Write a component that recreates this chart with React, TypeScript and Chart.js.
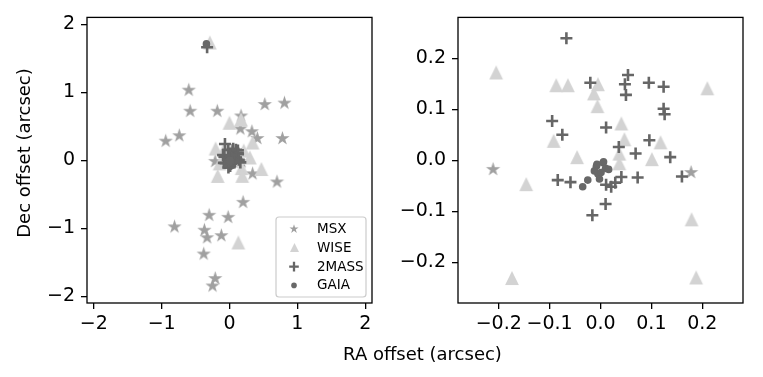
import React, { useEffect, useRef } from "react";
import { Chart, registerables } from "chart.js";

Chart.register(...registerables);

const FONT_FAMILY = "'DejaVu Sans', 'Liberation Sans', sans-serif";

// ---- data (arcsec offsets) ----
const msxRA = [-0.6, -0.58, -0.18, 0.52, 0.81, 0.17, 0.16, 0.33, 0.41, 0.78, -0.74, -0.94, -0.211, 0.178, 0.34, 0.7, 0.2, -0.3, -0.02, -0.81, -0.37, -0.33, -0.12, -0.38, -0.21, -0.25];
const msxDec = [1.03, 0.72, 0.72, 0.82, 0.84, 0.65, 0.46, 0.42, 0.32, 0.32, 0.36, 0.28, -0.018, -0.024, -0.2, -0.32, -0.62, -0.81, -0.84, -0.98, -1.03, -1.14, -1.11, -1.38, -1.74, -1.85];

const wiseRA = [-0.29, 0.0, 0.17, 0.34, 0.3, 0.47, 0.13, -0.205, -0.087, -0.064, -0.005, -0.013, -0.006, 0.21, 0.041, 0.047, -0.092, 0.118, -0.046, 0.037, 0.101, 0.037, -0.146, 0.179, -0.174, 0.188];
const wiseDec = [1.73, 0.55, 0.6, 0.26, 0.04, -0.13, -1.21, 0.172, 0.147, 0.147, 0.149, 0.131, 0.106, 0.141, 0.072, 0.041, 0.038, 0.035, 0.006, 0.013, 0.002, -0.006, -0.047, -0.116, -0.231, -0.23];

const tmassRA = [-0.33, -0.067, -0.02, 0.054, 0.048, 0.05, 0.095, 0.124, 0.124, 0.126, -0.095, -0.075, 0.011, 0.096, 0.036, 0.069, 0.137, -0.084, -0.059, 0.011, 0.021, 0.029, 0.041, 0.073, 0.16, 0.01, -0.016];
const tmassDec = [1.66, 0.239, 0.152, 0.167, 0.149, 0.128, 0.152, 0.144, 0.101, 0.09, 0.077, 0.05, 0.064, 0.039, 0.026, 0.013, 0.006, -0.039, -0.043, -0.048, -0.052, -0.044, -0.033, -0.034, -0.032, -0.086, -0.108];

const gaiaRA = [-0.34, -0.035, -0.025, -0.008, 0.005, 0.01, -0.005, -0.002, 0.016, -0.012, 0.001, -0.007, 0.006];
const gaiaDec = [1.71, -0.052, -0.039, -0.012, -0.005, -0.016, -0.027, -0.037, -0.018, -0.021, -0.024, -0.008, -0.003];

const seriesNames = ["MSX", "WISE", "2MASS", "GAIA"];
const seriesColors = ["#a0a0a0", "#d3d3d3", "#666666", "#686868"];

const leftTicks = [-2, -1, 0, 1, 2];
const rightTicks = [-0.2, -0.1, 0.0, 0.1, 0.2];
const leftLimit = 2.1;
const rightLimit = 0.28;

const xAxisTitle = "RA offset (arcsec)";
const yAxisTitle = "Dec offset (arcsec)";

// ---- layout constants ----
const W = 763;
const H = 377;
const RIGHT_CANVAS_LEFT = 400;
const RIGHT_CANVAS_W = W - RIGHT_CANVAS_LEFT;
const TICK_FONT = 19;
const TITLE_FONT = 18;
const LEGEND_FONT = 13.5;

function toPoints(xs: number[], ys: number[]) {
  return xs.map((x, i) => ({ x, y: ys[i] }));
}

function starCanvas(r: number, color: string) {
  const s = Math.ceil(2 * r + 2);
  const c = document.createElement("canvas");
  c.width = s;
  c.height = s;
  const g = c.getContext("2d")!;
  const cx = s / 2;
  const cy = s / 2;
  g.beginPath();
  for (let i = 0; i < 10; i++) {
    const rr = i % 2 === 0 ? r : r * 0.382;
    const a = -Math.PI / 2 + (i * Math.PI) / 5;
    const px = cx + rr * Math.cos(a);
    const py = cy + rr * Math.sin(a);
    if (i === 0) g.moveTo(px, py);
    else g.lineTo(px, py);
  }
  g.closePath();
  g.fillStyle = color;
  g.fill();
  return c;
}

function triangleCanvas(h: number, color: string) {
  const s = Math.ceil(h + 2);
  const c = document.createElement("canvas");
  c.width = s;
  c.height = s;
  const g = c.getContext("2d")!;
  const cx = s / 2;
  const cy = s / 2;
  g.beginPath();
  g.moveTo(cx, cy - h / 2);
  g.lineTo(cx - h / 2, cy + h / 2);
  g.lineTo(cx + h / 2, cy + h / 2);
  g.closePath();
  g.fillStyle = color;
  g.fill();
  return c;
}

function fmtMinus(s: string) {
  return s.replace("-", "\u2212");
}

function buildDatasets(star: HTMLCanvasElement, tri: HTMLCanvasElement) {
  return [
    {
      label: seriesNames[0],
      data: toPoints(msxRA, msxDec),
      pointStyle: star,
      pointRadius: 8,
      backgroundColor: seriesColors[0],
      borderWidth: 0,
      order: 4,
    },
    {
      label: seriesNames[1],
      data: toPoints(wiseRA, wiseDec),
      pointStyle: tri,
      pointRadius: 8,
      backgroundColor: seriesColors[1],
      borderWidth: 0,
      order: 3,
    },
    {
      label: seriesNames[2],
      data: toPoints(tmassRA, tmassDec),
      pointStyle: "cross",
      pointRadius: 6,
      borderColor: seriesColors[2],
      backgroundColor: seriesColors[2],
      borderWidth: 2.6,
      order: 2,
    },
    {
      label: seriesNames[3],
      data: toPoints(gaiaRA, gaiaDec),
      pointStyle: "circle",
      pointRadius: 3.8,
      backgroundColor: seriesColors[3],
      borderWidth: 0,
      order: 1,
    },
  ];
}

function axisOpts(limit: number, ticks: number[], fmt: (v: number) => string, isY: boolean, size: number) {
  return {
    type: "linear" as const,
    position: isY ? ("left" as const) : ("bottom" as const),
    min: -limit,
    max: limit,
    afterBuildTicks: (s: any) => {
      s.ticks = ticks.map((v) => ({ value: v }));
    },
    afterFit: (s: any) => {
      if (isY) s.width = size;
      else s.height = size;
    },
    ticks: {
      callback: (v: any) => fmt(Number(v)),
      font: { family: FONT_FAMILY, size: TICK_FONT },
      color: "#000",
      padding: isY ? 6 : 4,
      autoSkip: false,
      maxRotation: 0,
      minRotation: 0,
    },
    grid: {
      display: true,
      drawOnChartArea: false,
      drawTicks: true,
      tickLength: 6,
      color: "#000",
      lineWidth: 1.3,
    },
    border: { display: false },
  };
}

const framePlugin = {
  id: "frame",
  afterDatasetsDraw(chart: any) {
    const { ctx, chartArea: a } = chart;
    ctx.save();
    ctx.strokeStyle = "#000";
    ctx.lineWidth = 1.3;
    ctx.strokeRect(a.left, a.top, a.right - a.left, a.bottom - a.top);
    ctx.restore();
  },
};

function makeLegendPlugin(star: HTMLCanvasElement, tri: HTMLCanvasElement) {
  return {
    id: "boxLegend",
    afterDraw(chart: any) {
      const { ctx, chartArea: a } = chart;
      const bw = 90;
      const bh = 80;
      const bx = a.right - 6 - bw;
      const by = a.bottom - 6 - bh;
      ctx.save();
      ctx.beginPath();
      const r = 3;
      ctx.moveTo(bx + r, by);
      ctx.lineTo(bx + bw - r, by);
      ctx.quadraticCurveTo(bx + bw, by, bx + bw, by + r);
      ctx.lineTo(bx + bw, by + bh - r);
      ctx.quadraticCurveTo(bx + bw, by + bh, bx + bw - r, by + bh);
      ctx.lineTo(bx + r, by + bh);
      ctx.quadraticCurveTo(bx, by + bh, bx, by + bh - r);
      ctx.lineTo(bx, by + r);
      ctx.quadraticCurveTo(bx, by, bx + r, by);
      ctx.closePath();
      ctx.fillStyle = "rgba(255,255,255,0.8)";
      ctx.fill();
      ctx.strokeStyle = "#cccccc";
      ctx.lineWidth = 1.2;
      ctx.stroke();

      const mx = bx + 18;
      const tx = bx + 41;
      const rowY = (i: number) => by + 12 + i * 18.8;
      ctx.drawImage(star, Math.round(mx - star.width / 2), Math.round(rowY(0) - star.height / 2));
      ctx.drawImage(tri, Math.round(mx - tri.width / 2), Math.round(rowY(1) - tri.height / 2));
      ctx.strokeStyle = seriesColors[2];
      ctx.lineWidth = 2.3;
      ctx.beginPath();
      ctx.moveTo(mx - 4.8, rowY(2));
      ctx.lineTo(mx + 4.8, rowY(2));
      ctx.moveTo(mx, rowY(2) - 4.8);
      ctx.lineTo(mx, rowY(2) + 4.8);
      ctx.stroke();
      ctx.fillStyle = seriesColors[3];
      ctx.beginPath();
      ctx.arc(mx, rowY(3), 2.8, 0, Math.PI * 2);
      ctx.fill();

      ctx.fillStyle = "#000";
      ctx.font = `${LEGEND_FONT}px ${FONT_FAMILY}`;
      ctx.textAlign = "left";
      ctx.textBaseline = "middle";
      seriesNames.forEach((n, i) => ctx.fillText(n, tx, rowY(i) + 0.5));
      ctx.restore();
    },
  };
}

const titlesPlugin = {
  id: "sharedTitles",
  afterDraw(chart: any) {
    const { ctx } = chart;
    ctx.save();
    ctx.fillStyle = "#000";
    ctx.font = `${TITLE_FONT}px ${FONT_FAMILY}`;
    ctx.textAlign = "center";
    ctx.textBaseline = "alphabetic";
    ctx.fillText(xAxisTitle, 422.5, 360);
    ctx.translate(30, 153);
    ctx.rotate(-Math.PI / 2);
    ctx.fillText(yAxisTitle, 0, 0);
    ctx.restore();
  },
};

export default function App() {
  const leftRef = useRef<HTMLCanvasElement>(null);
  const rightRef = useRef<HTMLCanvasElement>(null);

  useEffect(() => {
    const bigStar = starCanvas(7.5, seriesColors[0]);
    const bigTri = triangleCanvas(13.8, seriesColors[1]);
    const smallStar = starCanvas(4.8, seriesColors[0]);
    const smallTri = triangleCanvas(9, seriesColors[1]);

    const leftFmt = (v: number) => fmtMinus(String(Math.round(v)));
    const rightFmt = (v: number) => {
      const s = (Math.abs(v) < 1e-9 ? 0 : v).toFixed(1);
      return fmtMinus(s);
    };

    const left = new Chart(leftRef.current!, {
      type: "scatter",
      data: { datasets: buildDatasets(bigStar, bigTri) as any },
      options: {
        responsive: false,
        animation: false,
        devicePixelRatio: 1,
        events: [],
        layout: { padding: { left: 0, top: 17, right: W - 372, bottom: 0 } },
        plugins: { legend: { display: false }, tooltip: { enabled: false } },
        scales: {
          x: axisOpts(leftLimit, leftTicks, leftFmt, false, H - 303) as any,
          y: axisOpts(leftLimit, leftTicks, leftFmt, true, 87) as any,
        },
      },
      plugins: [framePlugin, makeLegendPlugin(smallStar, smallTri), titlesPlugin],
    });

    const right = new Chart(rightRef.current!, {
      type: "scatter",
      data: { datasets: buildDatasets(bigStar, bigTri) as any },
      options: {
        responsive: false,
        animation: false,
        devicePixelRatio: 1,
        events: [],
        layout: { padding: { left: 0, top: 17, right: W - 743, bottom: 0 } },
        plugins: { legend: { display: false }, tooltip: { enabled: false } },
        scales: {
          x: axisOpts(rightLimit, rightTicks, rightFmt, false, H - 303) as any,
          y: axisOpts(rightLimit, rightTicks, rightFmt, true, 458 - RIGHT_CANVAS_LEFT) as any,
        },
      },
      plugins: [framePlugin],
    });

    return () => {
      left.destroy();
      right.destroy();
    };
  }, []);

  return (
    <div style={{ position: "absolute", left: 0, top: 0, width: W, height: H, background: "#fff" }}>
      <canvas
        ref={leftRef}
        width={W}
        height={H}
        style={{ position: "absolute", left: 0, top: 0, width: W, height: H }}
      />
      <canvas
        ref={rightRef}
        width={RIGHT_CANVAS_W}
        height={H}
        style={{ position: "absolute", left: RIGHT_CANVAS_LEFT, top: 0, width: RIGHT_CANVAS_W, height: H }}
      />
    </div>
  );
}
